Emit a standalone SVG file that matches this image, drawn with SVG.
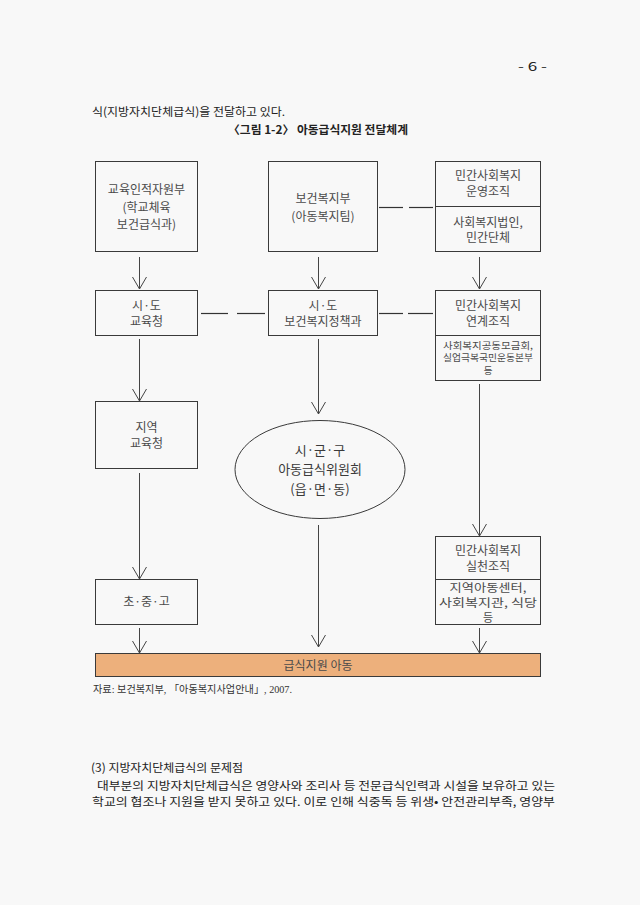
<svg xmlns="http://www.w3.org/2000/svg" width="640" height="905" viewBox="0 0 640 905">
<defs>
<style>
.box{fill:none;stroke:#3a3a3a;stroke-width:1}
.bt{font-family:"Noto Sans CJK KR","Noto Sans",sans-serif;font-size:12px;fill:#4a4a4a;text-anchor:middle}
.bs{font-family:"Noto Sans CJK KR","Noto Sans",sans-serif;font-size:11px;fill:#4a4a4a;text-anchor:middle}
.st{font-family:"Noto Sans CJK KR","Noto Sans",sans-serif;font-size:9.5px;fill:#4a4a4a;text-anchor:middle}
.et{font-family:"Noto Sans CJK KR","Noto Sans",sans-serif;font-size:13px;fill:#3a3a3a;text-anchor:middle}
.body{font-family:"Noto Sans CJK KR","Noto Sans",sans-serif;font-size:11.5px;fill:#222}
.cap{font-family:"Liberation Serif","Noto Sans CJK KR",serif;font-size:10px;fill:#333}
.arr{stroke:#444;stroke-width:1;fill:none;marker-end:url(#ah)}
.dash{stroke:#333;stroke-width:1.2;fill:none}
</style>
<marker id="ah" markerUnits="userSpaceOnUse" markerWidth="14" markerHeight="16" refX="12" refY="7" orient="auto" viewBox="0 0 14 14">
<path d="M0,0 L12,7 L0,14" fill="none" stroke="#444" stroke-width="1"/>
</marker>
</defs>
<rect x="0" y="0" width="640" height="905" fill="#F8F8F8"/>

<g id="page-text">
<text x="518" y="71" class="body" textLength="29" lengthAdjust="spacingAndGlyphs">- 6 -</text>
<text x="92" y="116" class="body" textLength="193" lengthAdjust="spacingAndGlyphs">식(지방자치단체급식)을  전달하고  있다.</text>
<text x="228" y="134" class="body" font-weight="bold" textLength="180" lengthAdjust="spacingAndGlyphs">〈그림 1-2〉 아동급식지원 전달체계</text>
<text x="93" y="693" class="cap" textLength="199" lengthAdjust="spacingAndGlyphs">자료: 보건복지부, 「아동복지사업안내」, 2007.</text>
<text x="91" y="772" class="body" textLength="152" lengthAdjust="spacingAndGlyphs">(3) 지방자치단체급식의 문제점</text>
<text x="97" y="790" class="body" textLength="458" lengthAdjust="spacingAndGlyphs">대부분의 지방자치단체급식은 영양사와 조리사 등 전문급식인력과 시설을 보유하고 있는</text>
<text x="92" y="806" class="body" textLength="463" lengthAdjust="spacingAndGlyphs">학교의 협조나 지원을 받지 못하고 있다. 이로 인해 식중독 등 위생• 안전관리부족, 영양부</text>
</g>

<g id="connectors">
<line class="arr" x1="139.5" y1="257" x2="139.5" y2="289"/>
<line class="arr" x1="139.5" y1="339" x2="139.5" y2="401"/>
<line class="arr" x1="139.5" y1="473" x2="139.5" y2="579"/>
<line class="arr" x1="139.5" y1="628" x2="139.5" y2="653"/>
<line class="arr" x1="318.5" y1="257" x2="318.5" y2="289"/>
<line class="arr" x1="318.5" y1="339" x2="318.5" y2="414"/>
<line class="arr" x1="318.5" y1="525" x2="318.5" y2="647"/>
<line class="arr" x1="479.5" y1="257" x2="479.5" y2="289"/>
<line class="arr" x1="479.5" y1="384" x2="479.5" y2="536"/>
<line class="arr" x1="479.5" y1="628" x2="479.5" y2="653"/>
<line class="dash" x1="379" y1="207.5" x2="403" y2="207.5"/>
<line class="dash" x1="409" y1="207.5" x2="433" y2="207.5"/>
<line class="dash" x1="201" y1="313.5" x2="228" y2="313.5"/>
<line class="dash" x1="237" y1="313.5" x2="265" y2="313.5"/>
<line class="dash" x1="379" y1="313.5" x2="403" y2="313.5"/>
<line class="dash" x1="408" y1="313.5" x2="433" y2="313.5"/>
</g>

<g id="moe">
<rect class="box" x="95.5" y="161.5" width="102" height="90"/>
<text class="bt" x="146.5" y="194">교육인적자원부</text>
<text class="bt" x="146.5" y="211.5">(학교체육</text>
<text class="bt" x="146.5" y="229">보건급식과)</text>
</g>
<g id="mohw">
<rect class="box" x="268.5" y="161.5" width="109" height="90"/>
<text class="bt" x="323" y="203">보건복지부</text>
<text class="bt" x="323" y="221">(아동복지팀)</text>
</g>
<g id="private-op">
<rect class="box" x="435.5" y="161.5" width="105" height="90"/>
<line class="box" x1="435.5" y1="206.5" x2="540.5" y2="206.5"/>
<text class="bt" x="488" y="180">민간사회복지</text>
<text class="bt" x="488" y="196">운영조직</text>
<text class="bt" x="488" y="226.5">사회복지법인,</text>
<text class="bt" x="488" y="242">민간단체</text>
</g>
<g id="edu-office">
<rect class="box" x="95.5" y="290.5" width="102" height="45"/>
<text class="bt" x="146.5" y="309.5">시·도</text>
<text class="bt" x="146.5" y="325.5">교육청</text>
</g>
<g id="health-dept">
<rect class="box" x="268.5" y="290.5" width="109" height="45"/>
<text class="bt" x="323" y="309.5">시·도</text>
<text class="bt" x="323" y="325.5">보건복지정책과</text>
</g>
<g id="private-link">
<rect class="box" x="435.5" y="290.5" width="105" height="90"/>
<line class="box" x1="435.5" y1="335.5" x2="540.5" y2="335.5"/>
<text class="bt" x="488" y="309.5">민간사회복지</text>
<text class="bt" x="488" y="325.5">연계조직</text>
<text class="st" x="488" y="348.5" textLength="90" lengthAdjust="spacingAndGlyphs">사회복지공동모금회,</text>
<text class="st" x="488" y="361" textLength="90" lengthAdjust="spacingAndGlyphs">실업극복국민운동본부</text>
<text class="st" x="488" y="373.5">등</text>
</g>
<g id="local-edu">
<rect class="box" x="95.5" y="401.5" width="102" height="67"/>
<text class="bt" x="146.5" y="431.5">지역</text>
<text class="bt" x="146.5" y="447.5">교육청</text>
</g>
<g id="committee">
<ellipse class="box" cx="320" cy="469.5" rx="85" ry="49"/>
<text class="et" x="320" y="454.5">시·군·구</text>
<text class="et" x="320" y="474">아동급식위원회</text>
<text class="et" x="320" y="493.5">(읍·면·동)</text>
</g>
<g id="schools">
<rect class="box" x="95.5" y="579.5" width="102" height="45"/>
<text class="bt" x="146.5" y="606">초·중·고</text>
</g>
<g id="private-practice">
<rect class="box" x="435.5" y="536.5" width="105" height="88"/>
<line class="box" x1="435.5" y1="579.5" x2="540.5" y2="579.5"/>
<text class="bt" x="488" y="555">민간사회복지</text>
<text class="bt" x="488" y="570.5">실천조직</text>
<text class="bs" x="488" y="591.5" textLength="77" lengthAdjust="spacingAndGlyphs">지역아동센터,</text>
<text class="bs" x="488" y="606.5" textLength="98" lengthAdjust="spacingAndGlyphs">사회복지관, 식당</text>
<text class="bs" x="488" y="621.5">등</text>
</g>
<g id="children">
<rect x="95.5" y="653.5" width="445" height="23" fill="#EDB07C" stroke="#3a3a3a" stroke-width="1"/>
<text class="bt" x="318" y="670" fill="#333">급식지원 아동</text>
</g>
</svg>
